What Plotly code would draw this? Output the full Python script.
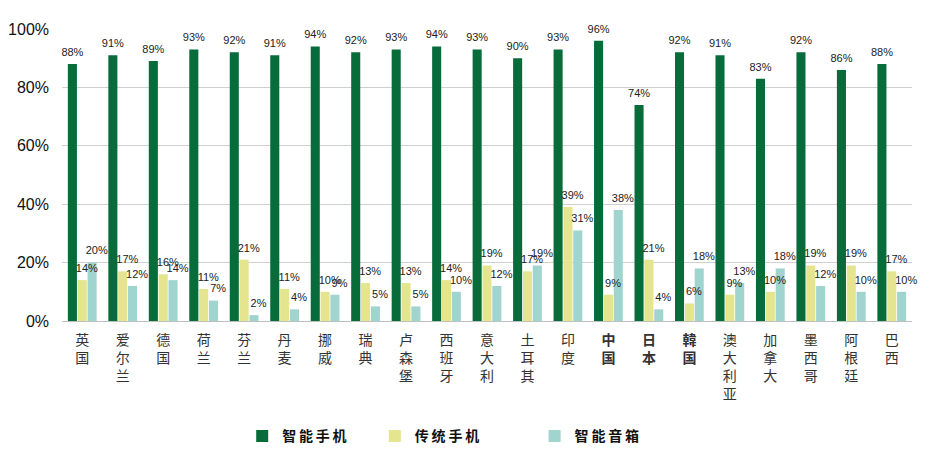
import plotly.graph_objects as go

countries = ["英国", "爱尔兰", "德国", "荷兰", "芬兰", "丹麦", "挪威", "瑞典", "卢森堡", "西班牙",
             "意大利", "土耳其", "印度", "中国", "日本", "韓国", "澳大利亚", "加拿大", "墨西哥", "阿根廷", "巴西"]
smartphone = [88, 91, 89, 93, 92, 91, 94, 92, 93, 94, 93, 90, 93, 96, 74, 92, 91, 83, 92, 86, 88]
feature_phone = [14, 17, 16, 11, 21, 11, 10, 13, 13, 14, 19, 17, 39, 9, 21, 6, 9, 10, 19, 19, 17]
smart_speaker = [20, 12, 14, 7, 2, 4, 9, 5, 5, 10, 12, 19, 31, 38, 4, 18, 13, 18, 12, 10, 10]
series_names = ["智能手机", "传统手机", "智能音箱"]
bold_countries = {"中国", "日本", "韓国"}
y_ticks = [0, 20, 40, 60, 80, 100]
y_ticktext = [f"{v}%" for v in y_ticks]

colors = ["#076B3A", "#E5E48F", "#A0D4CF"]
legend_ids = ["legend", "legend2", "legend3"]
legend_x = [0.212, 0.368, 0.556]
label_pad = ["", "\u00a0\u00a0\u00a0", "\u00a0\u00a0\u00a0"]

def vlabel(c):
    s = "<br>".join(list(c))
    if c in bold_countries:
        s = "<b>" + s + "</b>"
    return s

ticktext = [vlabel(c) for c in countries]
series_vals = [smartphone, feature_phone, smart_speaker]

fig = go.Figure()
for i, (name, vals, col, lid) in enumerate(zip(series_names, series_vals, colors, legend_ids)):
    fig.add_trace(go.Bar(
        x=countries, y=vals, name="<b>" + "\u2009".join(list(name)) + "</b>",
        marker=dict(color=col, line=dict(width=0)),
        offsetgroup=str(i), legend=lid,
    ))
for i, (vals, pad) in enumerate(zip(series_vals, label_pad)):
    fig.add_trace(go.Scatter(
        x=countries, y=vals, mode="markers+text",
        marker=dict(size=7, color="rgba(0,0,0,0)"),
        text=[f"{pad}{v}%" for v in vals], textposition="top center",
        textfont=dict(size=11, color="#222222", family="Liberation Sans, Arial"),
        offsetgroup=str(i), showlegend=False, cliponaxis=False, hoverinfo="skip",
    ))

legend_common = dict(orientation="h", y=-0.395, yanchor="middle", xanchor="left",
                     font=dict(size=14, color="#111111", family="Noto Sans CJK SC"),
                     bgcolor="rgba(0,0,0,0)", itemwidth=30)

fig.update_layout(
    width=934, height=443,
    margin=dict(l=54, r=30, t=21, b=130, autoexpand=False),
    paper_bgcolor="white", plot_bgcolor="white",
    barmode="group", bargap=0.27, bargroupgap=0.08,
    scattermode="group", scattergap=0.27,
    font=dict(family="Noto Sans CJK SC, Liberation Sans, sans-serif", color="#222222"),
    showlegend=True,
    legend=dict(x=legend_x[0], **legend_common),
    legend2=dict(x=legend_x[1], **legend_common),
    legend3=dict(x=legend_x[2], **legend_common),
)
fig.update_xaxes(
    tickmode="array", tickvals=countries, ticktext=ticktext,
    tickfont=dict(size=14, color="#333333", family="Noto Sans CJK SC"),
    showline=True, linecolor="#BFBFBF", linewidth=1, ticks="",
    automargin=False, ticklabelstandoff=6,
)
fig.update_yaxes(
    range=[0, 100], tickmode="array", tickvals=y_ticks, ticktext=y_ticktext,
    tickfont=dict(size=16, color="#111111", family="Liberation Sans, Arial"),
    showgrid=True, gridcolor="#D0D0D0", gridwidth=1, zeroline=False,
    ticks="", showline=False, automargin=False, ticklabelstandoff=12,
)

fig.write_html("out.html")
